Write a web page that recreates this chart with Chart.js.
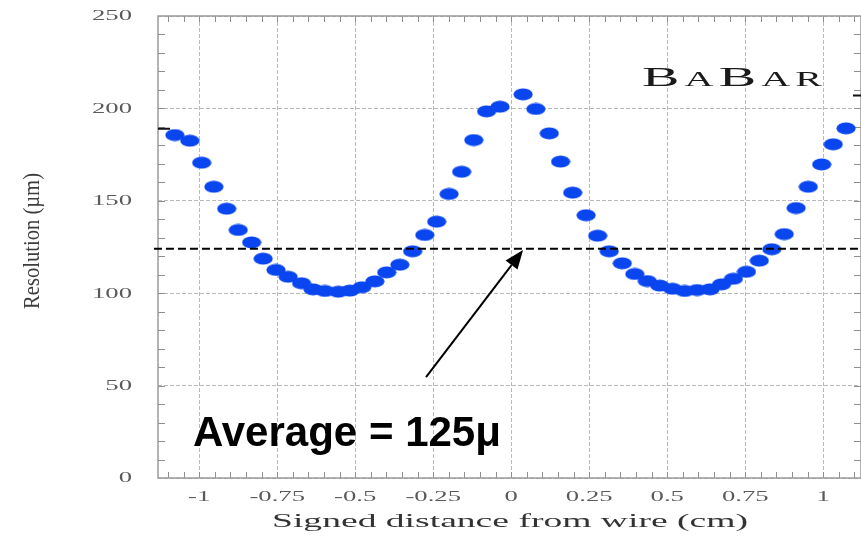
<!DOCTYPE html>
<html>
<head>
<meta charset="utf-8">
<script src="https://cdn.jsdelivr.net/npm/chart.js@4.4.0/dist/chart.umd.min.js"></script>
<style>
  html, body { margin: 0; padding: 0; background: #fff; }
</style>
</head>
<body>
<canvas id="myChart" width="861" height="537"></canvas>
<script>
"use strict";

//Avstånd från tråden (cm) och upplösning (µm)
const distCm = [-1.078, -1.030, -0.992, -0.953, -0.912, -0.875, -0.832, -0.795, -0.754, -0.715,
  -0.672, -0.635, -0.597, -0.554, -0.517, -0.479, -0.437, -0.399, -0.357, -0.316,
  -0.277, -0.239, -0.199, -0.159, -0.120, -0.079, -0.036, 0.038, 0.079, 0.122,
  0.158, 0.197, 0.240, 0.277, 0.314, 0.356, 0.396, 0.436, 0.476, 0.517,
  0.556, 0.596, 0.637, 0.674, 0.712, 0.754, 0.795, 0.835, 0.875, 0.913,
  0.952, 0.995, 1.032, 1.073];
const resolution = [185.6, 182.5, 170.6, 157.6, 145.7, 134.2, 127.5, 118.7, 112.6, 108.9,
  105.4, 102.1, 101.2, 100.8, 101.4, 103.2, 106.4, 111.3, 115.4, 122.7,
  131.5, 138.7, 153.7, 165.7, 182.9, 198.4, 200.9, 207.6, 199.7, 186.5,
  171.2, 154.4, 142.2, 131.1, 122.7, 116.2, 110.4, 106.6, 104.1, 102.4,
  101.2, 101.7, 102.1, 104.8, 107.8, 111.6, 117.6, 123.8, 132.0, 146.1,
  157.6, 169.7, 180.6, 189.2];

//Axlar
const xTicks = [-1, -0.75, -0.5, -0.25, 0, 0.25, 0.5, 0.75, 1];
const xTickLabels = ["-1", "-0.75", "-0.5", "-0.25", "0", "0.25", "0.5", "0.75", "1"];
const yTicks = [0, 50, 100, 150, 200, 250];
const yTickLabels = ["0", "50", "100", "150", "200", "250"];
const xTitle = "Signed distance from wire (cm)";
const yTitle = "Resolution (\u00b5m)";

//Medelvärde och pil
const averageValue = 124;
const averageText = "Average = 125\u03bc";
const arrowFrom = { x: -0.273, y: 54.6 };
const arrowTo = { x: 0.038, y: 123.4 };
const textAt = { x: -1.02, y: 17.1 };

//Små svarta markeringar vid kanterna
const leftMark = 189;
const rightMark = 207;

//Ellipsformad punkt (bilden är utdragen i bredd)
function makeDot() {
  const c = document.createElement("canvas");
  c.width = 20;
  c.height = 13;
  const g = c.getContext("2d");
  g.fillStyle = "#0a46f0";
  g.beginPath();
  g.ellipse(10, 6.5, 9.6, 6.0, 0, 0, Math.PI * 2);
  g.fill();
  return c;
}

//Text som dras ut i sidled
function wideText(ctx, text, x, y, font, sx, align, color) {
  ctx.save();
  ctx.font = font;
  ctx.fillStyle = color;
  ctx.textAlign = align;
  ctx.textBaseline = "middle";
  ctx.translate(x, y);
  ctx.scale(sx, 1);
  ctx.fillText(text, 0, 0);
  ctx.restore();
}

function fitScale(ctx, text, font, width) {
  ctx.save();
  ctx.font = font;
  const w = ctx.measureText(text).width;
  ctx.restore();
  return width / w;
}

//Ram, småstreck, etiketter och titlar
const framePlugin = {
  id: "framePlugin",
  beforeDatasetsDraw(chart) {
    const { ctx, chartArea: a, scales: { x, y } } = chart;
    ctx.save();
    ctx.strokeStyle = "#8e8e8e";
    ctx.lineWidth = 1;
    ctx.beginPath();
    for (let i = -22; i <= 22; i++) {
      const px = Math.round(x.getPixelForValue(i * 0.05)) + 0.5;
      ctx.moveTo(px, a.bottom); ctx.lineTo(px, a.bottom - 6);
      ctx.moveTo(px, a.top); ctx.lineTo(px, a.top + 6);
    }
    for (let v = 10; v < 250; v += 10) {
      const py = Math.round(y.getPixelForValue(v)) + 0.5;
      ctx.moveTo(a.left, py); ctx.lineTo(a.left + 7, py);
      ctx.moveTo(a.right, py); ctx.lineTo(a.right - 7, py);
    }
    ctx.stroke();
    ctx.strokeStyle = "#9a9a9a";
    ctx.lineWidth = 1.5;
    ctx.strokeRect(a.left, a.top, a.right - a.left, a.bottom - a.top);

    //svarta markeringar
    ctx.strokeStyle = "#111";
    ctx.lineWidth = 2;
    ctx.beginPath();
    ctx.moveTo(a.left, y.getPixelForValue(leftMark));
    ctx.lineTo(a.left + 12, y.getPixelForValue(leftMark));
    ctx.moveTo(a.right - 8, y.getPixelForValue(rightMark));
    ctx.lineTo(a.right, y.getPixelForValue(rightMark));
    ctx.stroke();
    ctx.restore();

    const tickFont = '15px "Liberation Serif"';
    yTicks.forEach((v, i) => {
      wideText(ctx, yTickLabels[i], a.left - 26, y.getPixelForValue(v) + 0.5, tickFont, 1.78, "right", "#5a5a5a");
    });
    xTicks.forEach((v, i) => {
      wideText(ctx, xTickLabels[i], x.getPixelForValue(v), 497, tickFont, 1.78, "center", "#5a5a5a");
    });

    const xtFont = '19px "Liberation Serif"';
    wideText(ctx, xTitle, 510, 522, xtFont, fitScale(ctx, xTitle, xtFont, 476), "center", "#333");

    const ytFont = '24px "Liberation Serif"';
    ctx.save();
    ctx.translate(33, 241);
    ctx.rotate(-Math.PI / 2);
    wideText(ctx, yTitle, 0, 0, ytFont, fitScale(ctx, yTitle, ytFont, 136), "center", "#3c3c3c");
    ctx.restore();
  },
  afterDatasetsDraw(chart) {
    const { ctx, scales: { x, y } } = chart;

    //BaBar-logga i kapitäler
    const letters = [["B", 28], ["A", 20], ["B", 28], ["A", 20], ["R", 20]];
    ctx.save();
    ctx.fillStyle = "#1a1a1a";
    ctx.textBaseline = "alphabetic";
    let total = 0;
    const widths = letters.map(l => {
      ctx.font = l[1] + 'px "Liberation Serif"';
      const w = ctx.measureText(l[0]).width * 2.0;
      total += w;
      return w;
    });
    const gap = (180 - total) / 4;
    let lx = 642;
    letters.forEach((l, i) => {
      ctx.save();
      ctx.font = l[1] + 'px "Liberation Serif"';
      ctx.translate(lx, 86);
      ctx.scale(2.0, 1);
      ctx.fillText(l[0], 0, 0);
      ctx.restore();
      lx += widths[i] + gap;
    });
    ctx.restore();

    //Pil mot medellinjen
    const x1 = x.getPixelForValue(arrowFrom.x), y1 = y.getPixelForValue(arrowFrom.y);
    const x2 = x.getPixelForValue(arrowTo.x), y2 = y.getPixelForValue(arrowTo.y);
    const ang = Math.atan2(y2 - y1, x2 - x1);
    const len = 19, half = 7.5;
    const bx = x2 - len * Math.cos(ang), by = y2 - len * Math.sin(ang);
    ctx.save();
    ctx.strokeStyle = "#000";
    ctx.fillStyle = "#000";
    ctx.lineWidth = 2;
    ctx.beginPath();
    ctx.moveTo(x1, y1);
    ctx.lineTo(bx, by);
    ctx.stroke();
    ctx.beginPath();
    ctx.moveTo(x2, y2);
    ctx.lineTo(bx + half * Math.sin(ang), by - half * Math.cos(ang));
    ctx.lineTo(bx - half * Math.sin(ang), by + half * Math.cos(ang));
    ctx.closePath();
    ctx.fill();

    //Text för medelvärdet
    const avFont = 'bold 42px "Liberation Sans"';
    ctx.font = avFont;
    const s = 308 / ctx.measureText(averageText).width;
    ctx.textBaseline = "alphabetic";
    ctx.textAlign = "left";
    ctx.translate(x.getPixelForValue(textAt.x), y.getPixelForValue(textAt.y));
    ctx.scale(s, 1);
    ctx.fillText(averageText, 0, 0);
    ctx.restore();
  }
};

//Rita diagrammet
function drawDiagram() {
  const ctx = document.getElementById("myChart");
  const points = distCm.map((d, i) => ({ x: d, y: resolution[i] }));

  new Chart(ctx, {
    type: "scatter",
    data: {
      datasets: [{
        label: "Resolution",
        data: points,
        pointStyle: makeDot(),
        pointRadius: 6,
        order: 1
      }, {
        type: "line",
        label: "Average",
        data: [{ x: -1.145, y: averageValue }, { x: 1.125, y: averageValue }],
        borderColor: "#000",
        borderWidth: 2,
        borderDash: [8, 4],
        pointRadius: 0,
        clip: { left: 6, top: 0, right: 0, bottom: 0 },
        order: 0
      }]
    },
    options: {
      responsive: false,
      animation: false,
      devicePixelRatio: 1,
      layout: { autoPadding: false, padding: { left: 158, top: 16, right: 0, bottom: 59 } },
      plugins: { legend: { display: false }, tooltip: { enabled: false } },
      scales: {
        x: {
          type: "linear",
          min: -1.132,
          max: 1.121,
          afterBuildTicks: s => { s.ticks = xTicks.map(v => ({ value: v })); },
          ticks: { display: false },
          grid: { color: "#b9b9b9", lineWidth: 1, drawTicks: false },
          border: { display: false, dash: [4, 2] }
        },
        y: {
          type: "linear",
          min: 0,
          max: 250,
          afterBuildTicks: s => { s.ticks = yTicks.map(v => ({ value: v })); },
          ticks: { display: false },
          grid: { color: "#b9b9b9", lineWidth: 1, drawTicks: false },
          border: { display: false, dash: [4, 2] }
        }
      }
    },
    plugins: [framePlugin]
  });
}

window.onload = drawDiagram;
</script>
</body>
</html>
